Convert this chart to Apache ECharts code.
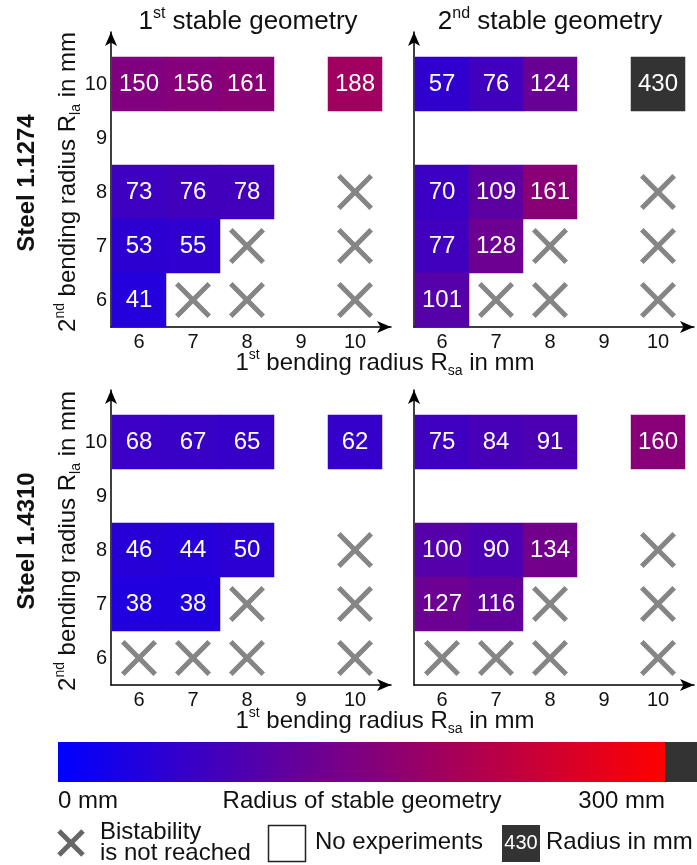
<!DOCTYPE html>
<html>
<head>
<meta charset="utf-8">
<script src="https://cdn.jsdelivr.net/npm/echarts@6/dist/echarts.min.js"></script>
<style>html,body{margin:0;padding:0;background:#fff}#c{width:697px;height:865px}</style>
</head>
<body>
<div id="c"></div>
<script>
// Categories
const xLabels = ['6', '7', '8', '9', '10'];          // 1st bending radius R_sa in mm
const yLabels = ['6', '7', '8', '9', '10'];          // 2nd bending radius R_la in mm
const rowOrder = ['10', '9', '8', '7', '6'];         // rows of the tables below, top to bottom
// Radius of stable geometry in mm; null = no experiments; 'X' = bistability is not reached
const steel1274First = [
  [150, 156, 161, null, 188],
  [null, null, null, null, null],
  [73, 76, 78, null, 'X'],
  [53, 55, 'X', null, 'X'],
  [41, 'X', 'X', null, 'X']
];
const steel1274Second = [
  [57, 76, 124, null, 430],
  [null, null, null, null, null],
  [70, 109, 161, null, 'X'],
  [77, 128, 'X', null, 'X'],
  [101, 'X', 'X', null, 'X']
];
const steel4310First = [
  [68, 67, 65, null, 62],
  [null, null, null, null, null],
  [46, 44, 50, null, 'X'],
  [38, 38, 'X', null, 'X'],
  ['X', 'X', 'X', null, 'X']
];
const steel4310Second = [
  [75, 84, 91, null, 160],
  [null, null, null, null, null],
  [100, 90, 134, null, 'X'],
  [127, 116, 'X', null, 'X'],
  ['X', 'X', 'X', null, 'X']
];
const colorScale = [0, 300];   // mm
const panelTables = [steel1274First, steel1274Second, steel4310First, steel4310Second];

const FF = 'Liberation Sans, Arial, sans-serif';
const chart = echarts.init(document.getElementById('c'), null, {renderer: 'canvas'});

const panels = [
  {left: 112, top: 57, yLabels: true},
  {left: 415, top: 57, yLabels: false},
  {left: 112, top: 415, yLabels: true},
  {left: 415, top: 415, yLabels: false}
];
const S = 270;
const xPath = 'path://M0,10 L10,0 L50,40 L90,0 L100,10 L60,50 L100,90 L90,100 L50,60 L10,100 L0,90 L40,50 Z';

const grids = [], xAxes = [], yAxes = [], series = [];
panels.forEach((p, i) => {
  grids.push({left: p.left, top: p.top, width: S, height: S});
  xAxes.push({
    type: 'category', gridIndex: i, data: xLabels,
    axisLine: {show: false}, axisTick: {show: false}, splitLine: {show: false},
    axisLabel: {fontSize: 20, fontFamily: FF, color: '#111', margin: 5}
  });
  yAxes.push({
    type: 'category', gridIndex: i, data: yLabels,
    axisLine: {show: false}, axisTick: {show: false}, splitLine: {show: false},
    axisLabel: {show: p.yLabels, fontSize: 20, fontFamily: FF, color: '#111', margin: 5}
  });
});
// decorative arrow axes
panels.forEach((p, i) => {
  grids.push({left: p.left - 1, top: p.top - 25, width: 280, height: S + 25});
  const ax = {
    type: 'value', gridIndex: 4 + i, min: 0, max: 1,
    axisLabel: {show: false}, axisTick: {show: false}, splitLine: {show: false},
    axisLine: {show: true, onZero: false, symbol: ['none', 'arrow'], symbolSize: [9, 14],
      lineStyle: {color: '#000', width: 1.5}}
  };
  xAxes.push(Object.assign({}, ax));
  yAxes.push(Object.assign({}, ax));
});

panelTables.forEach((tab, i) => {
  const heat = [], marks = [];
  tab.forEach((row, r) => row.forEach((v, c) => {
    if (v === 'X') marks.push([xLabels[c], rowOrder[r]]);
    else if (v !== null) heat.push([xLabels[c], rowOrder[r], v]);
  }));
  series.push({
    type: 'heatmap', xAxisIndex: i, yAxisIndex: i, data: heat,
    label: {show: true, color: '#fff', fontSize: 24, fontFamily: FF, formatter: p => p.value[2]},
    itemStyle: {borderWidth: 0}, emphasis: {disabled: true}
  });
  series.push({
    type: 'scatter', xAxisIndex: i, yAxisIndex: i, data: marks,
    symbol: xPath, symbolSize: 36, itemStyle: {color: '#666'}, z: 5
  });
});

const txt = (x, y, text, size, extra) => ({
  type: 'text', x: x, y: y, silent: true,
  style: Object.assign({text: text, fontSize: size, fontFamily: FF, fill: '#111',
    align: 'center', verticalAlign: 'middle', textAlign: 'center', textVerticalAlign: 'middle'}, extra || {})
});

function richName(x, y, main1, sup, main2, sub, main3, size, rot) {
  return {
    type: 'text', x: x, y: y, rotation: rot || 0, silent: true,
    style: {
      text: '{m|' + main1 + '}{s|' + sup + '}{m|' + main2 + '}' + (sub ? '{b|' + sub + '}{m|' + main3 + '}' : ''),
      align: 'center', verticalAlign: 'middle', textAlign: 'center', textVerticalAlign: 'middle',
      rich: {
        m: {fontSize: size, fontFamily: FF, fill: '#111', color: '#111', lineHeight: size + 6, verticalAlign: 'middle'},
        s: {fontSize: Math.round(size * 0.6), fontFamily: FF, fill: '#111', color: '#111', verticalAlign: 'top', lineHeight: Math.round(size * 0.6) + 2},
        b: {fontSize: Math.round(size * 0.6), fontFamily: FF, fill: '#111', color: '#111', verticalAlign: 'bottom', lineHeight: Math.round(size * 0.6) + 2}
      }
    }
  };
}

const graphics = [
  richName(248, 22, '1', 'st', ' stable geometry', null, null, 26),
  richName(550, 22, '2', 'nd', ' stable geometry', null, null, 26),
  richName(385, 363, '1', 'st', ' bending radius R', 'sa', ' in mm', 24),
  richName(385, 721, '1', 'st', ' bending radius R', 'sa', ' in mm', 24),
  richName(68, 182, '2', 'nd', ' bending radius R', 'la', ' in mm', 24, Math.PI / 2),
  richName(68, 541, '2', 'nd', ' bending radius R', 'la', ' in mm', 24, Math.PI / 2),
  {type: 'text', x: 27, y: 183, rotation: Math.PI / 2, silent: true,
    style: {text: 'Steel 1.1274', fontSize: 24, fontWeight: 'bold', fontFamily: FF, fill: '#111',
      align: 'center', verticalAlign: 'middle', textAlign: 'center', textVerticalAlign: 'middle'}},
  {type: 'text', x: 27, y: 541, rotation: Math.PI / 2, silent: true,
    style: {text: 'Steel 1.4310', fontSize: 24, fontWeight: 'bold', fontFamily: FF, fill: '#111',
      align: 'center', verticalAlign: 'middle', textAlign: 'center', textVerticalAlign: 'middle'}},
  // colour bar
  {type: 'rect', shape: {x: 58, y: 742, width: 607, height: 40}, silent: true,
    style: {fill: {type: 'linear', x: 0, y: 0, x2: 1, y2: 0,
      colorStops: [{offset: 0, color: '#0000ff'}, {offset: 1, color: '#ff0000'}]}}},
  {type: 'rect', shape: {x: 665, y: 742, width: 32, height: 40}, silent: true, style: {fill: '#333'}},
  txt(58, 801, colorScale[0] + ' mm', 24, {align: 'left', textAlign: 'left'}),
  txt(362, 801, 'Radius of stable geometry', 24),
  txt(665, 801, colorScale[1] + ' mm', 24, {align: 'right', textAlign: 'right'}),
  // legend
  {type: 'line', shape: {x1: 59, y1: 831, x2: 83, y2: 855}, silent: true, style: {stroke: '#666', lineWidth: 5}},
  {type: 'line', shape: {x1: 83, y1: 831, x2: 59, y2: 855}, silent: true, style: {stroke: '#666', lineWidth: 5}},
  txt(100, 832, 'Bistability', 24, {align: 'left', textAlign: 'left'}),
  txt(100, 853, 'is not reached', 24, {align: 'left', textAlign: 'left'}),
  {type: 'rect', shape: {x: 268.5, y: 825.5, width: 37, height: 36}, silent: true,
    style: {fill: '#fff', stroke: '#222', lineWidth: 1.5}},
  txt(315, 842, 'No experiments', 24, {align: 'left', textAlign: 'left'}),
  {type: 'rect', shape: {x: 502, y: 825, width: 38, height: 37}, silent: true, style: {fill: '#333'}},
  txt(521, 843, '430', 20, {fill: '#fff'}),
  txt(546, 842, 'Radius in mm', 24, {align: 'left', textAlign: 'left'})
];

chart.setOption({
  animation: false,
  backgroundColor: '#fff',
  grid: grids,
  xAxis: xAxes,
  yAxis: yAxes,
  visualMap: {
    show: false, type: 'continuous', min: colorScale[0], max: colorScale[1],
    range: [colorScale[0], colorScale[1]],
    unboundedRange: false,
    seriesIndex: [0, 2, 4, 6],
    inRange: {color: ['#0000ff', '#ff0000']},
    outOfRange: {color: '#333333'}
  },
  series: series,
  graphic: graphics
});
</script>
</body>
</html>
